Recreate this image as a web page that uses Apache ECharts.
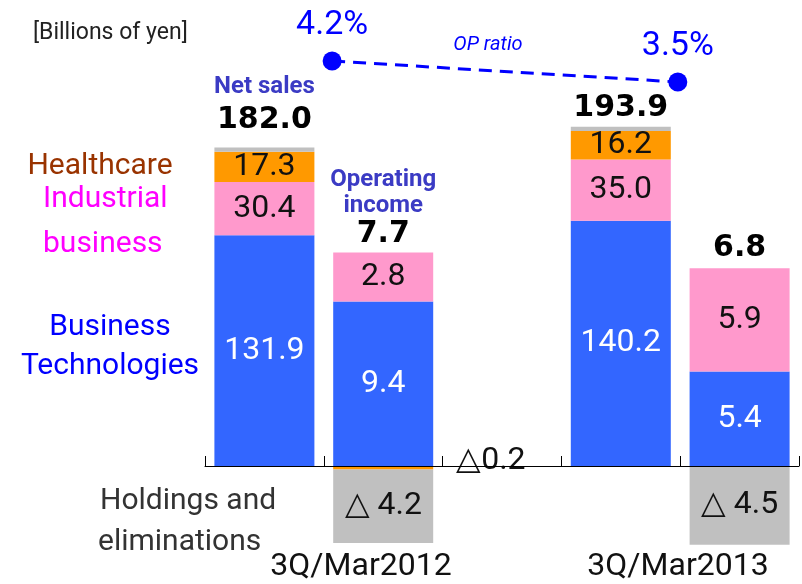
<!DOCTYPE html>
<html><head><meta charset="utf-8">
<script src="https://cdn.jsdelivr.net/npm/echarts@6/dist/echarts.min.js"></script>
<style>html,body{margin:0;padding:0;background:#fff}#c{width:802px;height:584px}</style>
</head><body><div id="c"></div>
<script>
// ---- data (billions of yen) ----
const slots = ['NS 3Q/Mar2012', 'OI 3Q/Mar2012', '', 'NS 3Q/Mar2013', 'OI 3Q/Mar2013'];
const periods = ['3Q/Mar2012', '3Q/Mar2013'];
const nsBT = [131.9, 140.2];
const nsInd = [30.4, 35.0];
const nsHC = [17.3, 16.2];
const nsHold = [2.4, 2.5];
const nsTotal = [182.0, 193.9];
const oiBT = [9.4, 5.4];
const oiInd = [2.8, 5.9];
const oiHC = [-0.2, null];
const oiHold = [-4.2, -4.5];
const oiTotal = [7.7, 6.8];
const opRatio = [4.2, 3.5];
const opRatioSlot = [1.07, 3.98];

const nsSlots = a => [a[0], '-', '-', a[1], '-'];
const oiSlots = a => ['-', a[0] == null ? '-' : a[0], '-', '-', a[1] == null ? '-' : a[1]];

const C_BT = '#3366ff', C_IND = '#ff99cc', C_HC = '#ff9900', C_HOLD = '#c0c0c0';
const numFont = {fontFamily: 'Roboto', fontSize: 32, textBorderWidth: 0};

function barSeries(name, stack, yIdx, data, color, label) {
  return {
    name, type: 'bar', stack, xAxisIndex: 0, yAxisIndex: yIdx, data,
    barWidth: 100, barGap: '-100%', itemStyle: {color},
    label: Object.assign({show: true, position: 'inside'}, numFont, label || {}),
    emphasis: {disabled: true}
  };
}
const fmt1 = p => Number(p.value).toFixed(1);
const fmtNeg = p => '\u25B3 ' + Math.abs(p.value).toFixed(1);

const nsTotalData = nsSlots([0, 0]).map((v, i) => v === '-' ? v : {value: 0, label: {distance: i === 0 ? 11 : 2}});
const oiTotalData = oiSlots([0, 0]).map((v, i) => v === '-' ? v : {value: 0, label: {distance: i === 1 ? 2 : 4}});

const totalRich = {
  t: {fontFamily: 'Roboto', fontWeight: 'bold', fontSize: 24, color: '#3b3bc4', lineHeight: 35},
  t2: {fontFamily: 'Roboto', fontWeight: 'bold', fontSize: 24, color: '#3b3bc4', lineHeight: 26},
  v: {fontFamily: 'DejaVu Sans', fontWeight: 'bold', fontSize: 30, color: '#000', lineHeight: 32}
};

const option = {
  animation: false,
  grid: {left: 205, width: 594, top: 46, height: 525, containLabel: false},
  xAxis: [
    {type: 'category', data: slots, z: 5,
     axisLine: {onZero: true, onZeroAxisIndex: 0, lineStyle: {color: '#000', width: 1}},
     axisTick: {show: true, inside: true, length: 10, lineStyle: {color: '#000'}},
     axisLabel: {show: false}, splitLine: {show: false}},
    {type: 'value', min: 0, max: 5, show: false}
  ],
  yAxis: [
    {type: 'value', min: -60, max: 240, show: false},
    {type: 'value', min: -6, max: 24, show: false},
    {type: 'value', min: -12.8, max: 4.7, show: false}
  ],
  series: [
    barSeries('Business Technologies', 'ns', 0, nsSlots(nsBT), C_BT, {color: '#fff', formatter: fmt1}),
    barSeries('Industrial business', 'ns', 0, nsSlots(nsInd), C_IND, {color: '#111', formatter: fmt1}),
    barSeries('Healthcare', 'ns', 0, nsSlots(nsHC), C_HC, {color: '#111', formatter: fmt1}),
    barSeries('Holdings and eliminations', 'ns', 0, nsSlots(nsHold), C_HOLD, {show: false}),
    barSeries('Net sales', 'ns', 0, nsTotalData, 'rgba(0,0,0,0)', {
      position: 'top',
      formatter: p => {
        const k = p.dataIndex === 0 ? 0 : 1;
        return (k === 0 ? '{t|Net sales}\n' : '') + '{v|' + nsTotal[k].toFixed(1) + '}';
      },
      rich: totalRich
    }),
    barSeries('Business Technologies OI', 'oi', 1, oiSlots(oiBT), C_BT, {color: '#fff', formatter: fmt1}),
    barSeries('Industrial business OI', 'oi', 1, oiSlots(oiInd), C_IND, {color: '#111', formatter: fmt1}),
    barSeries('Operating income', 'oi', 1, oiTotalData, 'rgba(0,0,0,0)', {
      position: 'top',
      formatter: p => {
        const k = p.dataIndex === 1 ? 0 : 1;
        return (k === 0 ? '{t2|Operating}\n{t2|income}\n' : '') + '{v|' + oiTotal[k].toFixed(1) + '}';
      },
      rich: totalRich
    }),
    barSeries('Healthcare OI', 'oi', 1, oiSlots(oiHC), C_HC, {
      position: 'right', distance: 23, offset: [0, -7], color: '#111',
      formatter: p => '\u25B3' + Math.abs(p.value).toFixed(1)
    }),
    barSeries('Holdings and eliminations OI', 'oi', 1, oiSlots(oiHold), C_HOLD, {color: '#111', formatter: fmtNeg}),
    {
      name: 'OP ratio', type: 'line', xAxisIndex: 1, yAxisIndex: 2, clip: false, z: 6,
      data: opRatio.map((v, i) => [opRatioSlot[i], v]),
      symbol: 'circle', symbolSize: 19, itemStyle: {color: '#0000ff'},
      lineStyle: {color: '#0000ff', width: 3, type: [13, 8]},
      label: {show: true, position: 'top', distance: 9, fontFamily: 'Roboto', fontSize: 34, color: '#0000ff',
              formatter: p => p.value[1].toFixed(1) + '%'},
      emphasis: {disabled: true}
    }
  ],
  graphic: [
    {type: 'text', x: 33, y: 33, style: {text: '[Billions of yen]', fill: '#222', fontFamily: 'Roboto', fontSize: 23, align: 'left', verticalAlign: 'middle'}},
    {type: 'text', x: 100, y: 166, style: {text: 'Healthcare', fill: '#993300', fontFamily: 'Roboto', fontSize: 30, align: 'center', verticalAlign: 'middle'}},
    {type: 'text', x: 43, y: 199, style: {text: 'Industrial', fill: '#ff00ff', fontFamily: 'Roboto', fontSize: 30, align: 'left', verticalAlign: 'middle'}},
    {type: 'text', x: 43, y: 244, style: {text: 'business', fill: '#ff00ff', fontFamily: 'Roboto', fontSize: 30, align: 'left', verticalAlign: 'middle'}},
    {type: 'text', x: 110, y: 327, style: {text: 'Business', fill: '#0000ff', fontFamily: 'Roboto', fontSize: 30, align: 'center', verticalAlign: 'middle'}},
    {type: 'text', x: 110, y: 366, style: {text: 'Technologies', fill: '#0000ff', fontFamily: 'Roboto', fontSize: 30, align: 'center', verticalAlign: 'middle'}},
    {type: 'text', x: 100, y: 501, style: {text: 'Holdings and', fill: '#333', fontFamily: 'Roboto', fontSize: 30, align: 'left', verticalAlign: 'middle'}},
    {type: 'text', x: 98, y: 542, style: {text: 'eliminations', fill: '#333', fontFamily: 'Roboto', fontSize: 30, align: 'left', verticalAlign: 'middle'}},
    {type: 'text', x: 488, y: 45, style: {text: 'OP ratio', fill: '#0000ff', fontFamily: 'Roboto', fontStyle: 'italic', fontSize: 20, align: 'center', verticalAlign: 'middle'}},
    {type: 'text', x: 361, y: 567, style: {text: periods[0], fill: '#111', fontFamily: 'Roboto', fontSize: 32, align: 'center', verticalAlign: 'middle'}},
    {type: 'text', x: 678, y: 567, style: {text: periods[1], fill: '#111', fontFamily: 'Roboto', fontSize: 32, align: 'center', verticalAlign: 'middle'}}
  ]
};
echarts.init(document.getElementById('c'), null, {renderer: 'canvas'}).setOption(option);
</script></body></html>
